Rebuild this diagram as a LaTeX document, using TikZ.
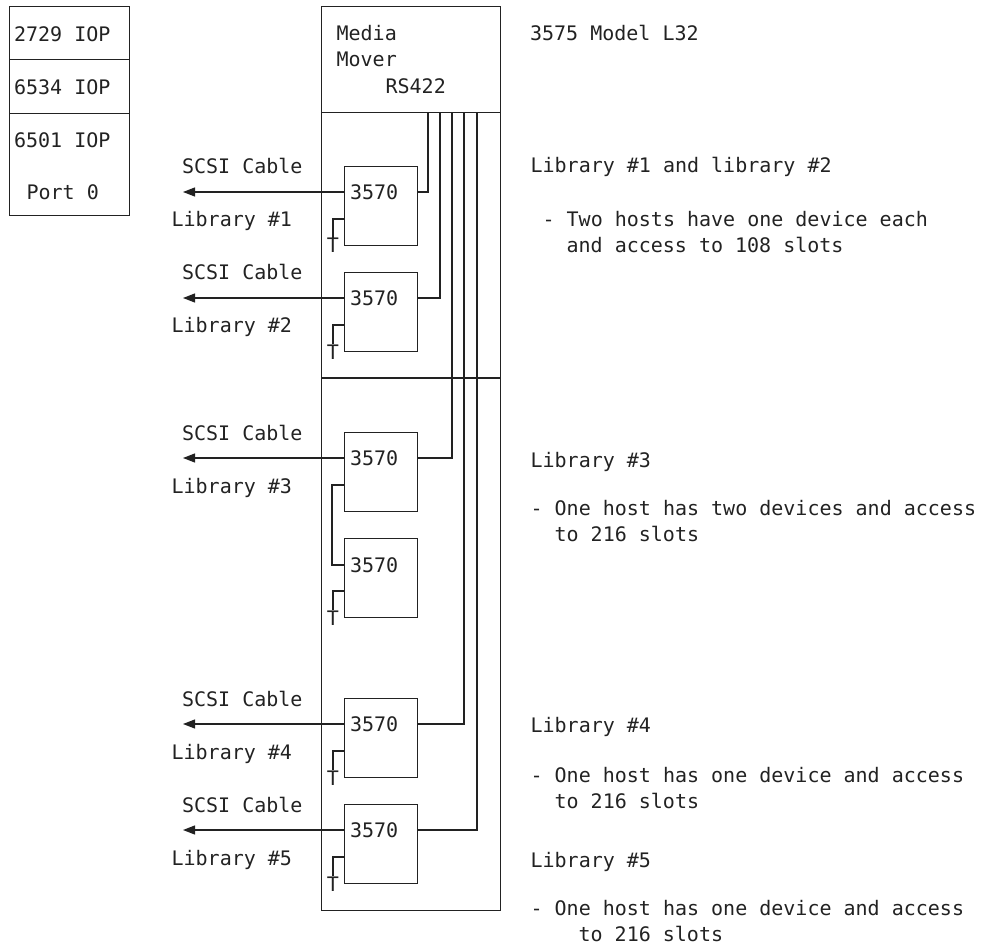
\documentclass[tikz,border=0pt]{standalone}
\usepackage{fontspec}
\setmainfont{DejaVu Sans Mono}
\usetikzlibrary{arrows.meta,calc}
\definecolor{ink}{HTML}{222222}
\begin{document}
\begin{tikzpicture}[x=1pt,y=-1pt,
  line width=1.2pt, draw=ink, text=ink,
  box/.style={draw=ink, rectangle, inner sep=0pt, anchor=north west},
  drive/.style={draw=ink, rectangle, inner sep=0pt, minimum width=73pt, minimum height=79pt, anchor=north west},
  txt/.style={inner sep=0pt, anchor=base west, font=\fontsize{20}{24}\selectfont},
  tee/.style={inner sep=0pt, anchor=base, font=\fontsize{20}{24}\selectfont},
  arr/.style={-{Triangle[length=12pt,width=9pt]}}]
\useasboundingbox (0,0) rectangle (987,949);

% left IOP column
\node[box, minimum width=120pt, minimum height=53pt] (iopA) at (9,6) {};
\node[box, minimum width=120pt, minimum height=54pt] (iopB) at (9,59) {};
\node[box, minimum width=120pt, minimum height=102pt] (iopC) at (9,113) {};
\node[txt] (tA) at (13.5,42) {2729 IOP};
\node[txt] (tB) at (13.5,95) {6534 IOP};
\node[txt] (tC) at (13.5,148) {6501 IOP};
\node[txt] (tD) at (26,200) {Port 0};

% library frame
\node[box, minimum width=179pt, minimum height=904pt] (lib) at (321,6) {};
\node[box, minimum width=179pt, minimum height=106pt] (mm) at (321,6) {};
\node[txt] (m1) at (336,41) {Media};
\node[txt] (m2) at (336,67) {Mover};
\node[txt] (m3) at (385,94) {RS422};
\node[txt] (model) at (529.5,41) {3575 Model L32};
\coordinate (div) at (321,378);
\draw (div) -- (div -| lib.east);

% wire tops
\coordinate (w1) at (428,112);
\coordinate (w2) at (440,112);
\coordinate (w3) at (452,112);
\coordinate (w4) at (464,112);
\coordinate (w5) at (477,112);

% arrow ends
\coordinate (e1) at (183,192);
\coordinate (e2) at (183,298);
\coordinate (e3) at (183,458);
\coordinate (e4) at (183,724);
\coordinate (e5) at (183,830);

% drives
\node[drive] (d1) at (344,166) {};
\node[drive] (d2) at (344,272) {};
\node[drive] (d3) at (344,432) {};
\node[drive] (d3b) at (344,538) {};
\node[drive] (d4) at (344,698) {};
\node[drive] (d5) at (344,804) {};

\node[txt] (n1) at ($(e1 -| d1.west)+(5.5,7.5)$) {3570};
\node[txt] (n2) at ($(e2 -| d2.west)+(5.5,7.5)$) {3570};
\node[txt] (n3) at ($(e3 -| d3.west)+(5.5,7.5)$) {3570};
\node[txt] (n3b) at ($(d3b.north west)+(5.5,34)$) {3570};
\node[txt] (n4) at ($(e4 -| d4.west)+(5.5,7.5)$) {3570};
\node[txt] (n5) at ($(e5 -| d5.west)+(5.5,7.5)$) {3570};

% SCSI cables
\draw[arr] (e1 -| d1.west) -- (e1);
\draw[arr] (e2 -| d2.west) -- (e2);
\draw[arr] (e3 -| d3.west) -- (e3);
\draw[arr] (e4 -| d4.west) -- (e4);
\draw[arr] (e5 -| d5.west) -- (e5);

\node[txt] (s1) at ($(e1)+(-1.5,-18)$) {SCSI Cable};
\node[txt] (s2) at ($(e2)+(-1.5,-18)$) {SCSI Cable};
\node[txt] (s3) at ($(e3)+(-1.5,-18)$) {SCSI Cable};
\node[txt] (s4) at ($(e4)+(-1.5,-18)$) {SCSI Cable};
\node[txt] (s5) at ($(e5)+(-1.5,-18)$) {SCSI Cable};
\node[txt] (l1) at ($(e1)+(-12,35)$) {Library \#1};
\node[txt] (l2) at ($(e2)+(-12,35)$) {Library \#2};
\node[txt] (l3) at ($(e3)+(-12,35)$) {Library \#3};
\node[txt] (l4) at ($(e4)+(-12,35)$) {Library \#4};
\node[txt] (l5) at ($(e5)+(-12,35)$) {Library \#5};

% RS422 wires
\draw (e1 -| d1.east) -| (w1);
\draw (e2 -| d2.east) -| (w2);
\draw (e3 -| d3.east) -| (w3);
\draw (e4 -| d4.east) -| (w4);
\draw (e5 -| d5.east) -| (w5);

% terminators
\node[tee] (t1) at ($(d1.north west)+(-11,87)$) {T};
\node[tee] (t2) at ($(d2.north west)+(-11,87)$) {T};
\node[tee] (t3b) at ($(d3b.north west)+(-11,87)$) {T};
\node[tee] (t4) at ($(d4.north west)+(-11,87)$) {T};
\node[tee] (t5) at ($(d5.north west)+(-11,87)$) {T};
\draw ($(d1.north west)+(0,53)$) -| (t1.north);
\draw ($(d2.north west)+(0,53)$) -| (t2.north);
\draw ($(d3b.north west)+(0,53)$) -| (t3b.north);
\draw ($(d4.north west)+(0,53)$) -| (t4.north);
\draw ($(d5.north west)+(0,53)$) -| (t5.north);
% daisy chain
\draw ($(d3.north west)+(0,53)$) -- ++(-12,0) |- ($(d3b.north west)+(0,27)$);

% right-hand notes
\node[txt] (r1) at (530,173) {Library \#1 and library \#2};
\node[txt] (r1a) at (542,227) {- Two hosts have one device each};
\node[txt] (r1b) at (566,253) {and access to 108 slots};
\node[txt] (r3) at (530,467) {Library \#3};
\node[txt] (r3a) at (530,515) {- One host has two devices and access};
\node[txt] (r3b) at (554,541) {to 216 slots};
\node[txt] (r4) at (530,732) {Library \#4};
\node[txt] (r4a) at (530,782) {- One host has one device and access};
\node[txt] (r4b) at (554,808) {to 216 slots};
\node[txt] (r5) at (530,867) {Library \#5};
\node[txt] (r5a) at (530,915) {- One host has one device and access};
\node[txt] (r5b) at (578,941) {to 216 slots};
\end{tikzpicture}
\end{document}
